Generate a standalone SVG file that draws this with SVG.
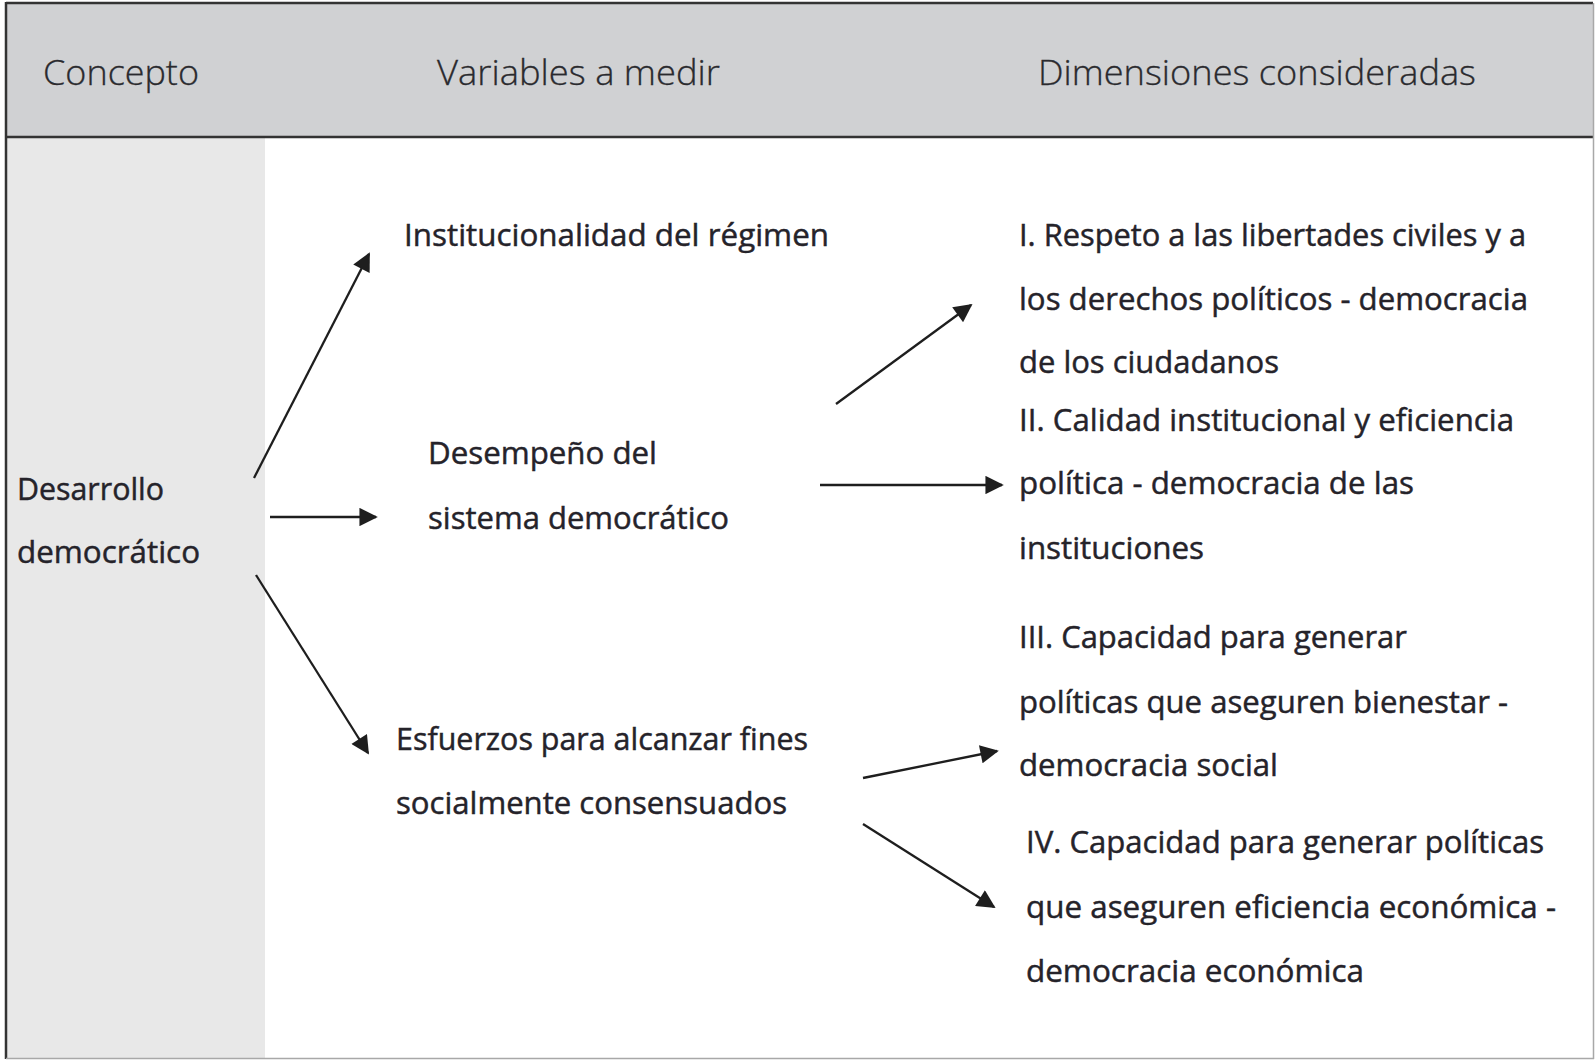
<svg xmlns="http://www.w3.org/2000/svg" width="1595" height="1060" viewBox="0 0 1595 1060">
<defs>
<style>
.hdr{font-family:"Open Sans","Liberation Sans",sans-serif;font-weight:300;font-size:34px;fill:#2a2a2e;stroke:#2a2a2e;stroke-width:0.3}
.t{font-family:"Open Sans","Liberation Sans",sans-serif;font-size:30.5px;fill:#25232a;stroke:#25232a;stroke-width:0.45}
.c{stroke:#1e1e1e;stroke-width:2.3;fill:none;marker-end:url(#ah)}
</style>
<marker id="ah" viewBox="0 0 10 10" refX="9" refY="5" markerWidth="9" markerHeight="8" markerUnits="strokeWidth" orient="auto">
<path d="M0,0 L10,5 L0,10 z" fill="#1e1e1e"/>
</marker>
</defs>
<rect x="0" y="0" width="1595" height="1060" fill="#ffffff"/>
<g id="header">
<rect x="6" y="3" width="1587" height="134" fill="#d0d1d3"/>
<text class="hdr" x="43" y="85" textLength="156" lengthAdjust="spacingAndGlyphs">Concepto</text>
<text class="hdr" x="437" y="85" textLength="283" lengthAdjust="spacingAndGlyphs">Variables a medir</text>
<text class="hdr" x="1038" y="85" textLength="438" lengthAdjust="spacingAndGlyphs">Dimensiones consideradas</text>
</g>
<rect id="col-concepto" x="6" y="137" width="259" height="921" fill="#e8e8e8"/>
<line x1="6" y1="137" x2="1593" y2="137" stroke="#333" stroke-width="2.5"/>
<line x1="6" y1="3" x2="1593" y2="3" stroke="#333" stroke-width="2.5"/>
<line x1="6" y1="2" x2="6" y2="1059" stroke="#333" stroke-width="2.5"/>
<line x1="1593.5" y1="3" x2="1593.5" y2="1059" stroke="#a8a8a8" stroke-width="1.5"/>
<line x1="6" y1="1058.5" x2="1594" y2="1058.5" stroke="#a8a8a8" stroke-width="1.5"/>
<g id="n-desarrollo">
<text class="t" x="17" y="500" textLength="147" lengthAdjust="spacingAndGlyphs">Desarrollo</text>
<text class="t" x="17" y="563" textLength="183" lengthAdjust="spacingAndGlyphs">democrático</text>
</g>
<g id="n-institucionalidad">
<text class="t" x="404" y="246" textLength="425" lengthAdjust="spacingAndGlyphs">Institucionalidad del régimen</text>
</g>
<g id="n-desempeno">
<text class="t" x="428" y="464" textLength="229" lengthAdjust="spacingAndGlyphs">Desempeño del</text>
<text class="t" x="428" y="529" textLength="301" lengthAdjust="spacingAndGlyphs">sistema democrático</text>
</g>
<g id="n-esfuerzos">
<text class="t" x="396" y="750" textLength="412" lengthAdjust="spacingAndGlyphs">Esfuerzos para alcanzar fines</text>
<text class="t" x="396" y="814" textLength="391" lengthAdjust="spacingAndGlyphs">socialmente consensuados</text>
</g>
<g id="n-dim1">
<text class="t" x="1019" y="246" textLength="507" lengthAdjust="spacingAndGlyphs">I. Respeto a las libertades civiles y a</text>
<text class="t" x="1019" y="310" textLength="509" lengthAdjust="spacingAndGlyphs">los derechos políticos - democracia</text>
<text class="t" x="1019" y="373" textLength="260" lengthAdjust="spacingAndGlyphs">de los ciudadanos</text>
</g>
<g id="n-dim2">
<text class="t" x="1019" y="431" textLength="495" lengthAdjust="spacingAndGlyphs">II. Calidad institucional y eficiencia</text>
<text class="t" x="1019" y="494" textLength="395" lengthAdjust="spacingAndGlyphs">política - democracia de las</text>
<text class="t" x="1019" y="559" textLength="185" lengthAdjust="spacingAndGlyphs">instituciones</text>
</g>
<g id="n-dim3">
<text class="t" x="1019" y="648" textLength="388" lengthAdjust="spacingAndGlyphs">III. Capacidad para generar</text>
<text class="t" x="1019" y="713" textLength="489" lengthAdjust="spacingAndGlyphs">políticas que aseguren bienestar -</text>
<text class="t" x="1019" y="776" textLength="259" lengthAdjust="spacingAndGlyphs">democracia social</text>
</g>
<g id="n-dim4">
<text class="t" x="1026" y="853" textLength="518" lengthAdjust="spacingAndGlyphs">IV. Capacidad para generar políticas</text>
<text class="t" x="1026" y="918" textLength="530" lengthAdjust="spacingAndGlyphs">que aseguren eficiencia económica -</text>
<text class="t" x="1026" y="982" textLength="338" lengthAdjust="spacingAndGlyphs">democracia económica</text>
</g>
<g id="connectors">
<line class="c" x1="254" y1="478" x2="369" y2="254"/>
<line class="c" x1="270" y1="517" x2="376" y2="517"/>
<line class="c" x1="256" y1="575" x2="368" y2="753"/>
<line class="c" x1="836" y1="404" x2="971" y2="305"/>
<line class="c" x1="820" y1="485" x2="1002" y2="485"/>
<line class="c" x1="863" y1="778" x2="997" y2="751"/>
<line class="c" x1="863" y1="824" x2="994" y2="907"/>
</g>
</svg>
